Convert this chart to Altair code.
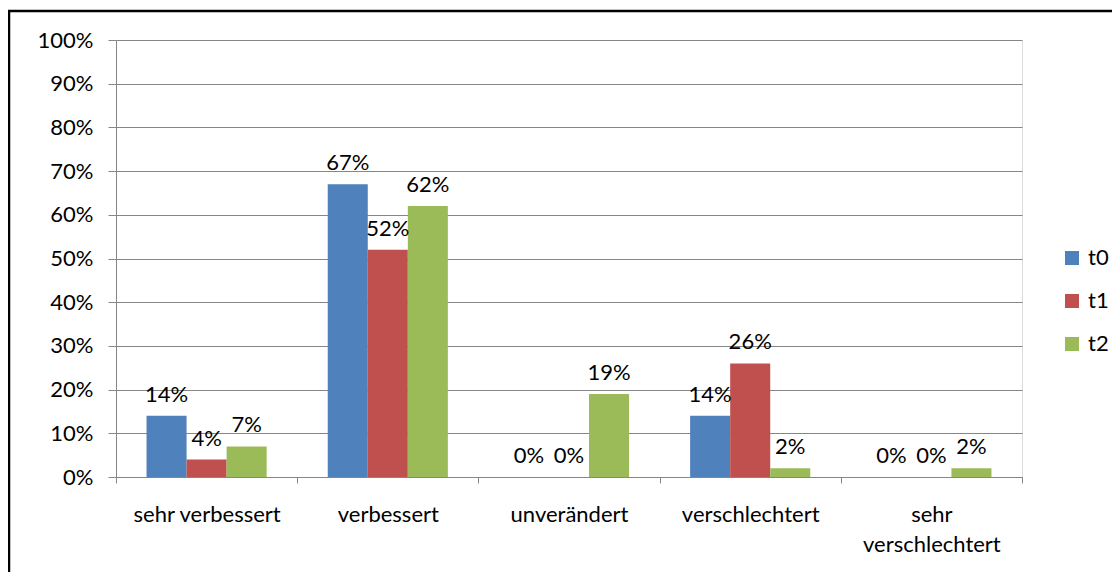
import altair as alt
import pandas as pd

categories = ["sehr verbessert", "verbessert", "unverändert", "verschlechtert", "sehr verschlechtert"]
series = ["t0", "t1", "t2"]
t0 = [0.14, 0.67, 0.00, 0.14, 0.00]
t1 = [0.04, 0.52, 0.00, 0.26, 0.00]
t2 = [0.07, 0.62, 0.19, 0.02, 0.02]
colors = ["#4F81BD", "#C0504D", "#9BBB59"]
y_ticks = [i / 10 for i in range(11)]

rows = []
for name, vals in zip(series, [t0, t1, t2]):
    for c, v in zip(categories, vals):
        rows.append({"Kategorie": c, "Serie": name, "Wert": v})
df = pd.DataFrame(rows)

FONT = "Lato"
FS = 22
W, H = 906, 437

x_enc = alt.X("Kategorie:N", sort=categories,
              scale=alt.Scale(paddingInner=0, paddingOuter=0),
              axis=alt.Axis(title=None, labelAngle=0, tickBand="extent", tickSize=6,
                            tickColor="#868686", domainColor="#868686", labelPadding=21,
                            labelFontSize=FS, labelFont=FONT, labelColor="#000000",
                            labelExpr="datum.value == 'sehr verschlechtert' ? ['sehr', 'verschlechtert'] : datum.value",
                            labelLineHeight=30, grid=False))
xo_enc = alt.XOffset("Serie:N", sort=series, scale=alt.Scale(paddingInner=0, paddingOuter=0.7625))
y_enc = alt.Y("Wert:Q", scale=alt.Scale(domain=[0, 1], nice=False),
              axis=alt.Axis(title=None, format=".0%", values=y_ticks, tickSize=8,
                            tickColor="#868686", domainColor="#868686", gridColor="#868686",
                            labelPadding=15, labelFontSize=FS, labelFont=FONT, labelColor="#000000"))

bars = alt.Chart(df).mark_bar().encode(
    x=x_enc, xOffset=xo_enc, y=y_enc,
    color=alt.Color("Serie:N", sort=series, scale=alt.Scale(domain=series, range=colors),
                    legend=alt.Legend(title=None, orient="none", legendX=945, legendY=207,
                                      symbolType="square", symbolSize=196, symbolStrokeWidth=0,
                                      labelFontSize=FS, labelFont=FONT, labelColor="#000000",
                                      rowPadding=21, labelOffset=5, padding=0)),
)

labels = alt.Chart(df).mark_text(baseline="middle", dy=-21, fontSize=FS, font=FONT, color="#000000").encode(
    x=alt.X("Kategorie:N", sort=categories), xOffset=xo_enc, y="Wert:Q",
    text=alt.Text("Wert:Q", format=".0%"),
)

border = alt.Chart(pd.DataFrame({"a": [0]})).mark_rect(
    fill=None, stroke="#000000", strokeWidth=2.5
).encode(x=alt.value(-107), x2=alt.value(1200), y=alt.value(-29), y2=alt.value(700))

chart = alt.layer(bars, labels, border).properties(
    width=W, height=H,
    autosize=alt.AutoSizeParams(type="none"),
    padding={"left": 108, "top": 32, "right": 90, "bottom": 95},
).configure_view(stroke=None).configure(background="#ffffff")

chart.save("out.html", embed_options={"renderer": "svg", "actions": False})
